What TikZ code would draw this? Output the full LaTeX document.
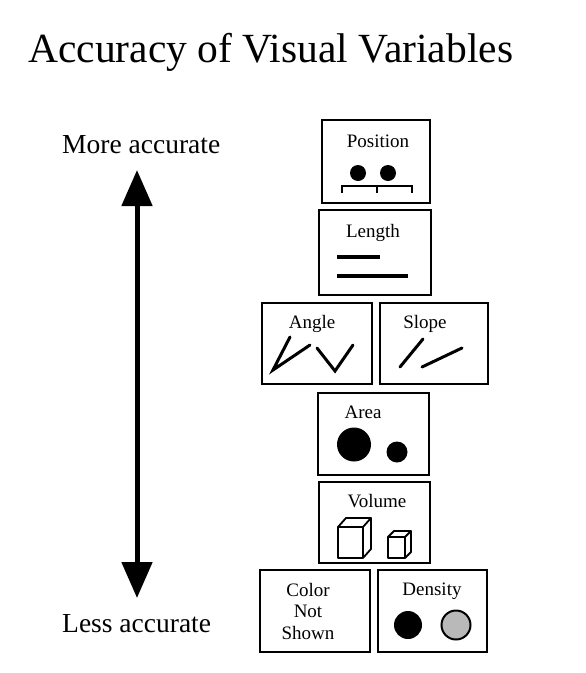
\documentclass[tikz,border=0pt]{standalone}
\usepackage{fontspec}
\setmainfont{Liberation Serif}
\usetikzlibrary{arrows.meta}
\tikzset{
	varbox/.style = {draw=black, line width=2.6pt, inner sep=0pt},
	varlabel/.style = {anchor=base, inner sep=0pt, font=\fontsize{19}{21.5}\selectfont},
	endlabel/.style = {anchor=base west, inner sep=0pt, font=\fontsize{27.5}{30}\selectfont},
	markline/.style = {line width=3pt, line cap=round},
	cubeline/.style = {line width=1.8pt, line join=round}
}

\begin{document}
\begin{tikzpicture}[x=1pt, y=-1pt]
		\useasboundingbox (0,0) rectangle (586,673);
		\node [anchor=base west, inner sep=0pt, font=\fontsize{41.5}{45}\selectfont] (title) at (28,62) {Accuracy of Visual Variables};
		% scale of accuracy
		\node [endlabel] (more) at (62,153) {More accurate};
		\node [endlabel] (less) at (62,632) {Less accurate};
		\coordinate (top) at (137,170);
		\coordinate (bottom) at (137,598);
		\draw [line width=5pt, {Triangle[width=30pt,length=36pt]}-{Triangle[width=30pt,length=36pt]}] (top) -- (bottom);
		% boxes
		\node [varbox, minimum width=108pt, minimum height=83pt] (position) at (376,161.5) {};
		\node [varbox, minimum width=112pt, minimum height=85pt] (length) at (375,252.5) {};
		\node [varbox, minimum width=110pt, minimum height=81pt] (angle) at (317,343.5) {};
		\node [varbox, minimum width=108pt, minimum height=81pt] (slope) at (434,343.5) {};
		\node [varbox, minimum width=111pt, minimum height=82pt] (area) at (373.5,434) {};
		\node [varbox, minimum width=111pt, minimum height=81pt] (volume) at (374.5,522.5) {};
		\node [varbox, minimum width=110pt, minimum height=82pt] (color) at (315,611) {};
		\node [varbox, minimum width=109pt, minimum height=82pt] (density) at (432.5,611) {};
		% labels
		\node [varlabel] (positionlabel) at (378,147) {Position};
		\node [varlabel] (lengthlabel) at (373,237) {Length};
		\node [varlabel] (anglelabel) at (312,328) {Angle};
		\node [varlabel] (slopelabel) at (425,328) {Slope};
		\node [varlabel] (arealabel) at (363,418) {Area};
		\node [varlabel] (volumelabel) at (377,507) {Volume};
		\node [varlabel, anchor=center, align=center] (colorlabel) at (308,611) {Color\\Not\\Shown};
		\node [varlabel] (densitylabel) at (432,595) {Density};
		% position
		\fill (358,173) circle (8pt);
		\fill (388,173) circle (8pt);
		\draw [line width=2pt] (342,193) -- (342,186) -- (412,186) -- (412,193);
		\draw [line width=2pt] (377,186) -- (377,193);
		% length
		\draw [line width=4pt] (337,257) -- (380,257);
		\draw [line width=4pt] (337,276) -- (408,276);
		% angle
		\draw [markline, line join=miter] (290,337) -- (273,370) -- (310,345);
		\draw [markline, line join=miter] (317,348) -- (335,371) -- (353,345);
		% slope
		\draw [markline] (400,367) -- (423,339);
		\draw [markline] (422,367) -- (462,348);
		% area
		\fill (354,444.5) circle (17pt);
		\fill (397,452) circle (10.5pt);
		% volume
		\draw [cubeline] (338,527) rectangle (363,558);
		\draw [cubeline] (338,527) -- (346,518) -- (371,518) -- (363,527);
		\draw [cubeline] (363,558) -- (371,549) -- (371,518);
		\draw [cubeline] (388,537) rectangle (405,558);
		\draw [cubeline] (388,537) -- (394,531) -- (411,531) -- (405,537);
		\draw [cubeline] (405,558) -- (411,552) -- (411,531);
		% density
		\fill (408,625) circle (14pt);
		\draw [line width=2pt, fill=gray!55] (456,625) circle (14.5pt);
\end{tikzpicture}
\end{document}
